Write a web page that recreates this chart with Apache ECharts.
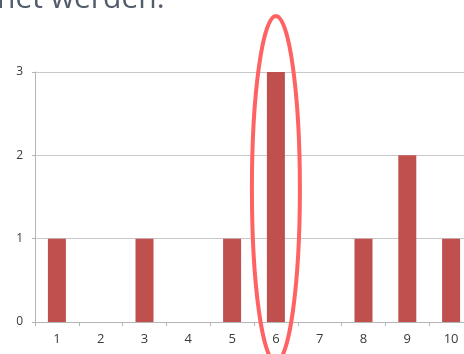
<!DOCTYPE html>
<html>
<head>
<meta charset="utf-8">
<script src="https://cdn.jsdelivr.net/npm/echarts@6/dist/echarts.min.js"></script>
<style>
  html, body { margin: 0; padding: 0; background: #fff; }
  #chart { width: 464px; height: 354px; }
</style>
</head>
<body>
<div id="chart"></div>
<script>
// Counts per score
const categories = ['1', '2', '3', '4', '5', '6', '7', '8', '9', '10'];
const counts = [1, 0, 1, 0, 1, 3, 0, 1, 2, 1];
const yTicks = [0, 1, 2, 3];
const highlighted = '6';

const chart = echarts.init(document.getElementById('chart'), null, { renderer: 'canvas' });

const option = {
  animation: false,
  grid: {
    left: 35, top: 72, bottom: 32, width: 438,
    containLabel: false,
    outerBoundsMode: 'none'
  },
  xAxis: {
    type: 'category',
    data: categories,
    axisLine: { lineStyle: { color: '#b4b4b4', width: 1 } },
    axisTick: { show: true, length: 4, lineStyle: { color: '#b4b4b4' } },
    axisLabel: { color: '#3a3a3a', fontSize: 13, fontFamily: 'Open Sans', margin: 11 }
  },
  yAxis: {
    type: 'value',
    min: yTicks[0],
    max: yTicks[yTicks.length - 1],
    interval: 1,
    axisLine: { show: true, lineStyle: { color: '#b4b4b4', width: 1 } },
    axisTick: { show: true, length: 3, lineStyle: { color: '#b4b4b4' } },
    axisLabel: { color: '#3a3a3a', fontSize: 12, fontFamily: 'Open Sans', margin: 12 },
    splitLine: { lineStyle: { color: '#c8c8c8', width: 1 } }
  },
  series: [{
    type: 'bar',
    data: counts,
    barWidth: 18,
    itemStyle: { color: '#c0504d' }
  }]
};
chart.setOption(option);

// Caption line and the ring marking the highlighted score
const cx = chart.convertToPixel({ xAxisIndex: 0 }, highlighted);
chart.setOption({
  graphic: [
    {
      type: 'text',
      x: -3,
      y: -16,
      style: {
        text: 'net werden.',
        font: '30px "Open Sans"',
        fill: '#525c6a'
      },
      z: 100
    },
    {
      type: 'ellipse',
      shape: { cx: cx, cy: 189, rx: 24, ry: 173 },
      style: { fill: 'none', stroke: '#ff6262', lineWidth: 4 },
      z: 100
    }
  ]
});
</script>
</body>
</html>
